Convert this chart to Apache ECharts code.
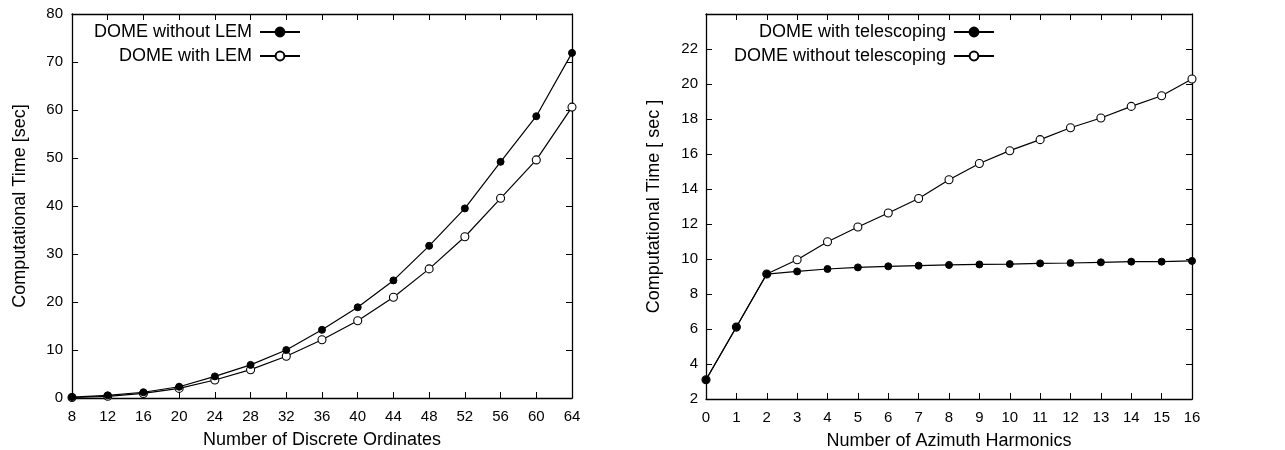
<!DOCTYPE html>
<html>
<head>
<meta charset="utf-8">
<script src="https://cdn.jsdelivr.net/npm/echarts@6/dist/echarts.min.js"></script>
<style>
html,body{margin:0;padding:0;background:#fff;}
#chart{width:1285px;height:450px;}
</style>
</head>
<body>
<div id="chart"></div>
<script>
const ordinates = [8,12,16,20,24,28,32,36,40,44,48,52,56,60,64];
const withoutLEM = [0.2,0.55,1.2,2.35,4.5,6.9,10.0,14.2,18.9,24.5,31.7,39.5,49.2,58.7,71.9];
const withLEM = [0.1,0.35,0.95,2.0,3.75,5.9,8.7,12.15,16.1,21.0,26.9,33.6,41.6,49.6,60.6];

const harmonics = [0,1,2,3,4,5,6,7,8,9,10,11,12,13,14,15,16];
const withTelescoping = [3.1,6.11,9.14,9.29,9.43,9.52,9.58,9.62,9.66,9.69,9.71,9.75,9.77,9.81,9.85,9.85,9.89];
const withoutTelescoping = [3.1,6.11,9.14,9.96,10.99,11.83,12.63,13.46,14.53,15.46,16.19,16.82,17.5,18.06,18.72,19.33,20.29];

const leftXLabel = 'Number of Discrete Ordinates';
const leftYLabel = 'Computational Time [sec]';
const rightXLabel = 'Number of Azimuth Harmonics';
const rightYLabel = 'Computational Time [ sec ]';

const FONT = '"Liberation Sans", Arial, sans-serif';
const pairs = (xs, ys) => xs.map((x, i) => [x, ys[i]]);

function axisBase(extra) {
  return Object.assign({
    type: 'value',
    axisLine: { show: true, onZero: false, lineStyle: { color: '#000', width: 1.3 } },
    axisTick: { show: true, inside: true, length: 6, lineStyle: { color: '#000', width: 1 } },
    splitLine: { show: false },
    axisLabel: { color: '#000', fontSize: 15, fontFamily: FONT, margin: 11 },
    nameTextStyle: { color: '#000', fontSize: 18, fontFamily: FONT },
    nameLocation: 'middle'
  }, extra);
}
function mirror(extra) {
  const a = axisBase(extra);
  a.axisLabel = { show: false };
  return a;
}

const lineStyle = { color: '#000', width: 1.2 };
function filledSeries(name, xi, yi, data) {
  return { type: 'line', name, xAxisIndex: xi, yAxisIndex: yi, data, symbol: 'circle', symbolSize: 7,
    lineStyle, itemStyle: { color: '#000', borderColor: '#000', borderWidth: 1 }, z: 3 };
}
function openSeries(name, xi, yi, data) {
  return { type: 'line', name, xAxisIndex: xi, yAxisIndex: yi, data, symbol: 'circle', symbolSize: 8,
    lineStyle, itemStyle: { color: '#fff', borderColor: '#000', borderWidth: 1.1 }, z: 2 };
}
function legend(name, right, top) {
  return { data: [name], orient: 'vertical', align: 'right', right, top, padding: 0,
    itemWidth: 40, itemHeight: 11, itemGap: 0,
    textStyle: { color: '#000', fontSize: 18, fontFamily: FONT, padding: [0, 3, 0, 0] } };
}

const chart = echarts.init(document.getElementById('chart'), null, { renderer: 'canvas' });
chart.setOption({
  animation: false,
  backgroundColor: '#fff',
  grid: [
    { left: 72, right: 713, top: 14, bottom: 52, containLabel: false, outerBoundsMode: 'none' },
    { left: 706, right: 93, top: 14, bottom: 51, containLabel: false, outerBoundsMode: 'none' }
  ],
  legend: [
    legend('DOME without LEM', 984, 23),
    legend('DOME with LEM', 984, 47),
    legend('DOME with telescoping', 290, 23),
    legend('DOME without telescoping', 290, 47)
  ],
  xAxis: [
    axisBase({ gridIndex: 0, min: 8, max: 64, interval: 4, name: leftXLabel, nameGap: 33 }),
    mirror({ gridIndex: 0, min: 8, max: 64, interval: 4, position: 'top' }),
    axisBase({ gridIndex: 1, min: 0, max: 16, interval: 1, name: rightXLabel, nameGap: 33 }),
    mirror({ gridIndex: 1, min: 0, max: 16, interval: 1, position: 'top' })
  ],
  yAxis: [
    axisBase({ gridIndex: 0, min: 0, max: 80, interval: 10, name: leftYLabel, nameGap: 43,
      axisLabel: { color: '#000', fontSize: 15, fontFamily: FONT, margin: 9 } }),
    mirror({ gridIndex: 0, min: 0, max: 80, interval: 10, position: 'right' }),
    axisBase({ gridIndex: 1, min: 2, max: 24, interval: 2, name: rightYLabel, nameGap: 43,
      axisLabel: { color: '#000', fontSize: 15, fontFamily: FONT, margin: 8, showMaxLabel: false } }),
    mirror({ gridIndex: 1, min: 2, max: 24, interval: 2, position: 'right' })
  ],
  series: [
    openSeries('DOME with LEM', 0, 0, pairs(ordinates, withLEM)),
    filledSeries('DOME without LEM', 0, 0, pairs(ordinates, withoutLEM)),
    openSeries('DOME without telescoping', 2, 2, pairs(harmonics, withoutTelescoping)),
    filledSeries('DOME with telescoping', 2, 2, pairs(harmonics, withTelescoping))
  ]
});
</script>
</body>
</html>
